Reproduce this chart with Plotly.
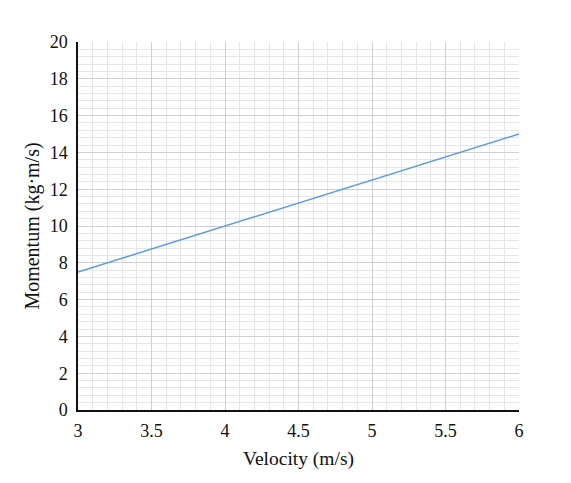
import plotly.graph_objects as go

# Momentum vs velocity (mass 2.5 kg)
velocity = [3, 3.5, 4, 4.5, 5, 5.5, 6]
momentum = [7.5, 8.75, 10, 11.25, 12.5, 13.75, 15]

x_ticks = [3, 3.5, 4, 4.5, 5, 5.5, 6]
x_labels = ['3', '3.5', '4', '4.5', '5', '5.5', '6']
y_ticks = [0, 2, 4, 6, 8, 10, 12, 14, 16, 18, 20]
y_labels = [str(v) for v in y_ticks]

SERIF = 'Liberation Serif'

fig = go.Figure()

fig.add_trace(go.Scatter(
    x=velocity,
    y=momentum,
    mode='lines',
    line=dict(color='#5B9BE0', width=1.5),
    showlegend=False
))

fig.update_layout(
    width=571,
    height=483,
    margin=dict(l=70, r=60, t=34, b=81),
    paper_bgcolor='white',
    plot_bgcolor='white',
    font=dict(family=SERIF, size=18, color='#111'),
)

fig.update_xaxes(
    range=[3, 6],
    tickmode='array',
    tickvals=x_ticks,
    ticktext=x_labels,
    tickfont=dict(family=SERIF, size=18, color='#111'),
    ticklabelstandoff=4,
    title_text='Velocity (m/s)',
    title_font=dict(family=SERIF, size=19.5, color='#111'),
    title_standoff=11,
    showgrid=True,
    gridcolor='#d0d0d0',
    gridwidth=1,
    minor=dict(dtick=0.1, showgrid=True, gridcolor='#e6e6e6', gridwidth=1),
    showline=True,
    linecolor='#111',
    linewidth=1.5,
    zeroline=False,
    ticks='',
)

fig.update_yaxes(
    range=[0, 20],
    tickmode='array',
    tickvals=y_ticks,
    ticktext=y_labels,
    tickfont=dict(family=SERIF, size=18, color='#111'),
    ticklabelstandoff=5,
    title_text='Momentum (kg·m/s)',
    title_font=dict(family=SERIF, size=20, color='#111'),
    title_standoff=5,
    showgrid=True,
    gridcolor='#d0d0d0',
    gridwidth=1,
    minor=dict(dtick=0.4, showgrid=True, gridcolor='#e6e6e6', gridwidth=1),
    showline=True,
    linecolor='#111',
    linewidth=1.5,
    zeroline=False,
    ticks='',
)

fig.write_html('out.html')
